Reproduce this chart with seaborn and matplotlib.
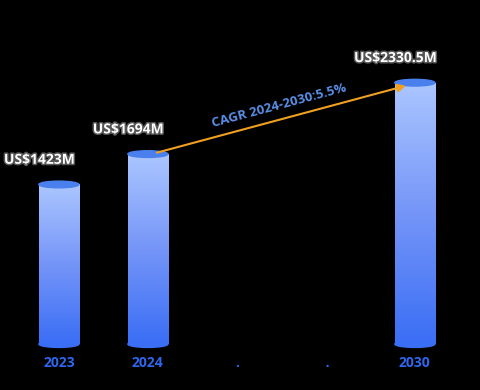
import numpy as np
import pandas as pd
import matplotlib
matplotlib.use("Agg")
import matplotlib.pyplot as plt
import matplotlib.patheffects as pe
from matplotlib.patches import Ellipse
from matplotlib.colors import LinearSegmentedColormap
import seaborn as sns

years = ["2023", "2024", ".", " .", "2030"]
values = [1423, 1694, 0, 0, 2330.5]
labels = ["US$1423M", "US$1694M", "", "", "US$2330.5M"]
cagr_text = "CAGR 2024-2030:5.5%"

sns.set_style("dark")
plt.rcParams['font.family'] = ['Open Sans', 'DejaVu Sans']

fig = plt.figure(figsize=(4.8, 3.9), dpi=100, facecolor="black")
ax = fig.add_axes([0.030, 0.1005, 0.927, 0.834])
ax.set_facecolor("black")

df = pd.DataFrame({"year": years, "value": values})
sns.barplot(data=df, x="year", y="value", ax=ax, width=0.45, color="#6f93f7")

# gradient fill + cylinder caps
cmap = LinearSegmentedColormap.from_list("cyl", ["#3a6ef5", "#7595f8", "#abc6ff"])
grad = np.linspace(0, 1, 256).reshape(-1, 1)
cap_h = 60
for p, v in zip(ax.patches, values):
    if v <= 0:
        p.set_visible(False)
        continue
    x0, w = p.get_x(), p.get_width()
    img = ax.imshow(grad, cmap=cmap, origin="lower", aspect="auto",
                    extent=[x0, x0 + w, 0, v], zorder=2)
    img.set_clip_path(p)
    p.set_facecolor("none")
    p.set_edgecolor("none")
    ax.add_patch(Ellipse((x0 + w / 2, 0), w, cap_h, color="#3a6ef5", zorder=1.9))
    ax.add_patch(Ellipse((x0 + w / 2, v), w, cap_h, color="#4a80ee", zorder=3))

ax.set_xlim(-0.5, 4.5)
ax.set_ylim(-60, 2840)

stroke = [pe.withStroke(linewidth=2.2, foreground="#555555")]
for i, (v, lab) in enumerate(zip(values, labels)):
    if lab:
        ax.text(i - 0.22, v + 220, lab, ha="center", va="center", color="white",
                fontsize=10, fontweight="bold", path_effects=stroke, zorder=5)

ax.annotate("", xy=(3.93, 2310), xytext=(1.07, 1700),
            arrowprops=dict(arrowstyle="-|>", color="#f0a020", lw=1.5,
                            mutation_scale=12), zorder=4)
ax.text(2.48, 2130, cagr_text, ha="center", va="center", rotation=15,
        color="#5b8fe6", fontsize=9.5, fontweight="bold", zorder=5)

ax.set_xlabel("")
ax.set_ylabel("")
ax.set_yticks([])
ax.tick_params(axis="x", length=0, pad=4)
for t in ax.get_xticklabels():
    t.set_color("#2f66ee")
    t.set_fontweight("bold")
    t.set_fontsize(10)
ax.grid(False)
for s in ax.spines.values():
    s.set_visible(False)

fig.savefig("out.png", dpi=100, facecolor="black")
